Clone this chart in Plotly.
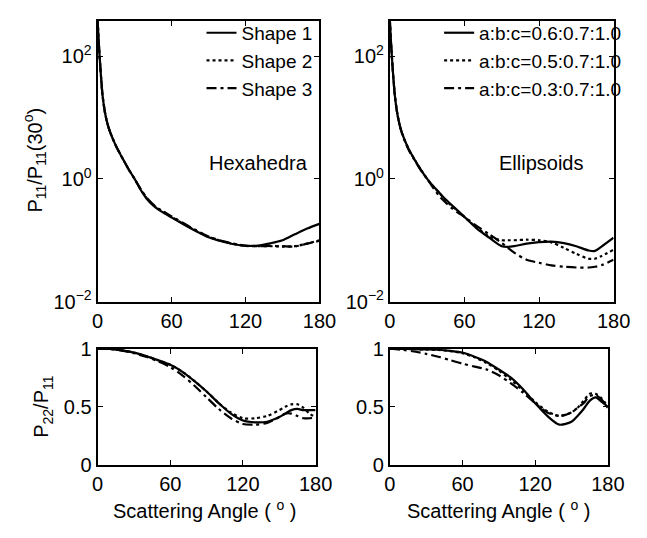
import plotly.graph_objects as go

# ---------------- data ----------------
# Normalised phase function P11/P11(30 deg), hexahedra
theta_hex = [0, 1, 2, 3, 4, 6, 8, 10, 15, 20, 25, 30, 35, 40, 45, 50, 55, 60, 75, 90, 105, 120,
             130, 140, 150, 160, 170, 180]
hex_shape1 = [380, 158, 76, 40, 23, 12, 7.9, 5.9, 3.4, 2.2, 1.45, 1.0, 0.66, 0.47, 0.37, 0.31, 0.27,
              0.235, 0.158, 0.112, 0.091, 0.081, 0.082, 0.089, 0.100, 0.125, 0.155, 0.185]
hex_shape2 = [380, 158, 76, 40, 23, 12, 7.9, 5.9, 3.4, 2.2, 1.45, 1.0, 0.67, 0.48, 0.38, 0.32, 0.28,
              0.24, 0.162, 0.114, 0.092, 0.081, 0.080, 0.080, 0.079, 0.080, 0.088, 0.100]
hex_shape3 = [380, 158, 76, 40, 23, 12, 7.9, 5.9, 3.4, 2.2, 1.45, 1.0, 0.68, 0.49, 0.385, 0.32, 0.28,
              0.245, 0.165, 0.115, 0.093, 0.082, 0.080, 0.081, 0.080, 0.079, 0.088, 0.098]

# Normalised phase function P11/P11(30 deg), ellipsoids
theta_ell = [0, 1, 2, 3, 4, 6, 8, 10, 15, 20, 25, 30, 35, 40, 45, 50, 55, 60, 70, 80, 90, 95, 100,
             110, 120, 130, 140, 150, 160, 165, 170, 180]
ell_a06 = [380, 158, 76, 40, 23, 11.5, 7.4, 5.4, 3.1, 2.05, 1.4, 1.0, 0.76, 0.59, 0.46, 0.37, 0.30,
           0.24, 0.155, 0.11, 0.08, 0.078, 0.08, 0.088, 0.093, 0.095, 0.09, 0.08, 0.068, 0.067, 0.078, 0.11]
ell_a05 = [380, 158, 76, 40, 23, 11.5, 7.4, 5.4, 3.1, 2.05, 1.4, 1.0, 0.75, 0.58, 0.45, 0.36, 0.295,
           0.24, 0.16, 0.115, 0.1, 0.1, 0.1, 0.102, 0.1, 0.092, 0.075, 0.06, 0.05, 0.05, 0.055, 0.07]
ell_a03 = [380, 158, 76, 40, 23, 11.5, 7.4, 5.3, 3.0, 2.0, 1.38, 1.0, 0.71, 0.52, 0.41, 0.33, 0.28,
           0.24, 0.17, 0.125, 0.09, 0.075, 0.063, 0.048, 0.043, 0.039, 0.037, 0.036, 0.036, 0.037,
           0.039, 0.048]

# P22/P11
theta_p22 = [0, 10, 20, 30, 40, 50, 60, 70, 80, 90, 100, 110, 120, 130, 140, 150, 155, 160, 165, 170, 175, 180]
hex22_shape1 = [1.0, 0.997, 0.985, 0.965, 0.935, 0.90, 0.86, 0.80, 0.72, 0.63, 0.53, 0.44, 0.38, 0.365,
                0.37, 0.41, 0.44, 0.47, 0.48, 0.47, 0.47, 0.47]
hex22_shape2 = [1.0, 0.997, 0.985, 0.965, 0.935, 0.90, 0.86, 0.80, 0.72, 0.63, 0.53, 0.45, 0.40, 0.40,
                0.42, 0.47, 0.50, 0.52, 0.52, 0.49, 0.44, 0.41]
hex22_shape3 = [1.0, 0.996, 0.983, 0.96, 0.93, 0.89, 0.84, 0.77, 0.68, 0.58, 0.48, 0.40, 0.35, 0.345,
                0.36, 0.41, 0.44, 0.44, 0.42, 0.40, 0.40, 0.41]

ell22_a06 = [1.0, 0.998, 0.995, 0.993, 0.99, 0.98, 0.965, 0.93, 0.885, 0.82, 0.75, 0.65, 0.53, 0.42,
             0.345, 0.37, 0.42, 0.48, 0.55, 0.58, 0.54, 0.50]
ell22_a05 = [1.0, 0.998, 0.995, 0.992, 0.988, 0.978, 0.96, 0.925, 0.875, 0.81, 0.73, 0.64, 0.54, 0.46,
             0.42, 0.45, 0.49, 0.55, 0.61, 0.61, 0.57, 0.50]
ell22_a03 = [1.0, 0.99, 0.975, 0.955, 0.93, 0.90, 0.87, 0.845, 0.82, 0.77, 0.70, 0.62, 0.53, 0.45,
             0.42, 0.45, 0.49, 0.53, 0.59, 0.60, 0.56, 0.49]

hex_names = ["Shape 1", "Shape 2", "Shape 3"]
ell_names = ["a:b:c=0.6:0.7:1.0", "a:b:c=0.5:0.7:1.0", "a:b:c=0.3:0.7:1.0"]

x_ticks = [0, 60, 120, 180]
log_tickvals = [0.01, 1, 100]
log_ticktext = ["10<sup>\u22122</sup>", "10<sup>0</sup>", "10<sup>2</sup>"]
lin_tickvals = [0, 0.5, 1]
lin_ticktext = ["0", "0.5", "1"]

# ---------------- styling ----------------
FONT = "Liberation Sans, Arial, Helvetica, sans-serif"
W, H = 647, 538
dashes = ["solid", "dot", "10px,4px,3px,4px"]


def px_x(a, b):
    return [a / W, b / W]


def px_y(top, bottom):
    return [1 - bottom / H, 1 - top / H]


fig = go.Figure()

panels = [
    # (xaxis, yaxis, theta, series, names, legend, showlegend)
    ("x", "y", theta_hex, [hex_shape1, hex_shape2, hex_shape3], hex_names, "legend", True),
    ("x2", "y2", theta_ell, [ell_a06, ell_a05, ell_a03], ell_names, "legend2", True),
    ("x3", "y3", theta_p22, [hex22_shape1, hex22_shape2, hex22_shape3], hex_names, "legend", False),
    ("x4", "y4", theta_p22, [ell22_a06, ell22_a05, ell22_a03], ell_names, "legend2", False),
]

for xa, ya, th, series, names, leg, show in panels:
    for s, name, dash in zip(series, names, dashes):
        fig.add_trace(go.Scatter(
            x=th, y=s, mode="lines", name=name, xaxis=xa, yaxis=ya,
            line=dict(color="black", width=2.2, dash=dash, shape="spline", smoothing=0.8),
            legend=leg, showlegend=show, hoverinfo="skip",
        ))

axis_common = dict(
    showline=True, linecolor="black", linewidth=2, mirror="ticks",
    ticks="inside", ticklen=5, tickwidth=1, tickcolor="black",
    showgrid=False, zeroline=False,
    tickfont=dict(family=FONT, size=20, color="black"),
)

xcommon = dict(axis_common, range=[0, 180], tickvals=x_ticks)

legend_style = dict(yanchor="top", xanchor="right", bgcolor="rgba(0,0,0,0)", borderwidth=0,
                    font=dict(family=FONT, size=19, color="black"))

fig.update_layout(
    width=W, height=H,
    margin=dict(l=0, r=0, t=0, b=0),
    paper_bgcolor="white", plot_bgcolor="white",
    font=dict(family=FONT, size=20, color="black"),
    xaxis=dict(xcommon, domain=px_x(95, 325), anchor="y"),
    yaxis=dict(axis_common, type="log", range=[-2, 2.58], tickvals=log_tickvals,
               ticktext=log_ticktext, domain=px_y(10, 303), anchor="x"),
    xaxis2=dict(xcommon, domain=px_x(398, 630), anchor="y2"),
    yaxis2=dict(axis_common, type="log", range=[-2, 2.58], tickvals=log_tickvals,
                ticktext=log_ticktext, domain=px_y(10, 303), anchor="x2"),
    xaxis3=dict(xcommon, domain=px_x(95, 321), anchor="y3"),
    yaxis3=dict(axis_common, range=[0, 1], tickvals=lin_tickvals, ticktext=lin_ticktext,
                domain=px_y(352, 473), anchor="x3"),
    xaxis4=dict(xcommon, domain=px_x(398, 624), anchor="y4"),
    yaxis4=dict(axis_common, range=[0, 1], tickvals=lin_tickvals, ticktext=lin_ticktext,
                domain=px_y(352, 473), anchor="x4"),
    legend=dict(legend_style, x=323 / W, y=1 - 3 / H),
    legend2=dict(legend_style, x=644 / W, y=1 - 3 / H),
)

ann = [
    dict(text="Hexahedra", x=262 / W, y=1 - 158 / H),
    dict(text="Ellipsoids", x=555 / W, y=1 - 158 / H),
    dict(text="P<sub>11</sub>/P<sub>11</sub>(30<sup>o</sup>)", x=30 / W, y=1 - 155 / H, textangle=-90),
    dict(text="P<sub>22</sub>/P<sub>11</sub>", x=38 / W, y=1 - 412 / H, textangle=-90),
    dict(text="Scattering Angle ( <sup>o</sup> )", x=206 / W, y=1 - 520 / H),
    dict(text="Scattering Angle ( <sup>o</sup> )", x=511 / W, y=1 - 520 / H),
]
for a in ann:
    fig.add_annotation(xref="paper", yref="paper", showarrow=False,
                       xanchor="center", yanchor="middle",
                       font=dict(family=FONT, size=20, color="black"), **a)

fig.write_html("out.html")
